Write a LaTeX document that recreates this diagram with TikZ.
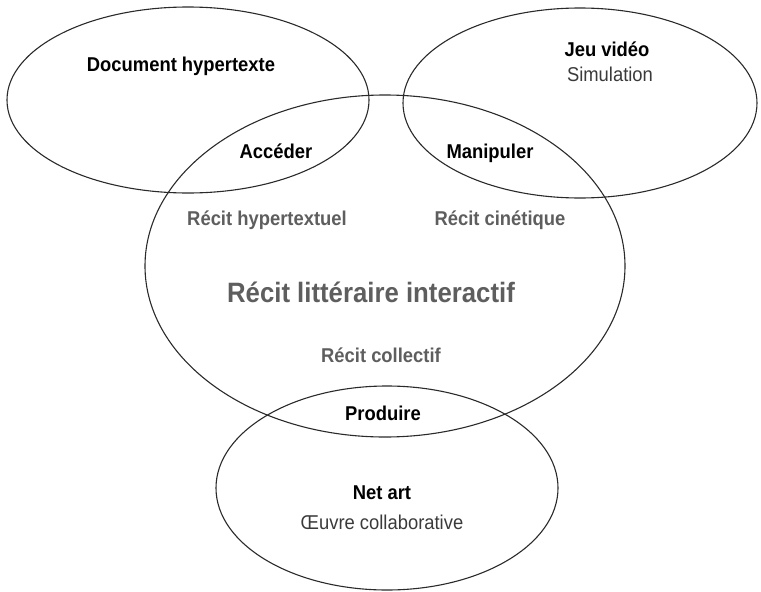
\documentclass[tikz,border=0pt]{standalone}
\usepackage{fontspec}
\setmainfont{Liberation Sans}[FakeStretch=0.92]
\usetikzlibrary{shapes.geometric}
\definecolor{linecol}{HTML}{2A2A2A}
\definecolor{graytxt}{HTML}{5E5E5E}
\definecolor{subtxt}{HTML}{3A3A3A}
\tikzset{
  zone/.style={ellipse, draw=linecol, line width=1.1pt, inner sep=0pt},
  lbl/.style={font=\fontsize{20}{22}\selectfont\bfseries, text=black, inner sep=0pt},
  sublbl/.style={font=\fontsize{20}{22}\selectfont, text=subtxt, inner sep=0pt},
  recit/.style={font=\fontsize{20}{22}\selectfont\bfseries, text=graytxt, inner sep=0pt},
  bigrecit/.style={font=\fontsize{28}{30}\selectfont\bfseries, text=graytxt, inner sep=0pt}
}
\begin{document}
\begin{tikzpicture}[x=1pt, y=-1pt]
\useasboundingbox (0,0) rectangle (761,592);
% ellipses
\node[zone, minimum width=362pt, minimum height=186pt] (doc) at (188,100) {};
\node[zone, minimum width=354pt, minimum height=190pt] (jeu) at (580,103) {};
\node[zone, minimum width=480pt, minimum height=342pt] (recit) at (385,266) {};
\node[zone, minimum width=342pt, minimum height=204pt] (net) at (387,488) {};
% labels
\node[lbl] (tdoc) at (181,66) {Document hypertexte};
\node[lbl] (tacc) at (276,151) {Accéder};
\node[lbl] (tjeu) at (607,49) {Jeu vidéo};
\node[sublbl] (tsim) at (610,74) {Simulation};
\node[lbl] (tman) at (490,153) {Manipuler};
\node[recit] (thyp) at (267,220) {Récit hypertextuel};
\node[recit] (tcin) at (500,220) {Récit cinétique};
\node[bigrecit] (tlit) at (371,292) {Récit littéraire interactif};
\node[recit] (tcol) at (381,355) {Récit collectif};
\node[lbl] (tpro) at (383,413) {Produire};
\node[lbl] (tnet) at (382,493) {Net art};
\node[sublbl] (toeu) at (382,522) {Œuvre collaborative};
\end{tikzpicture}
\end{document}
